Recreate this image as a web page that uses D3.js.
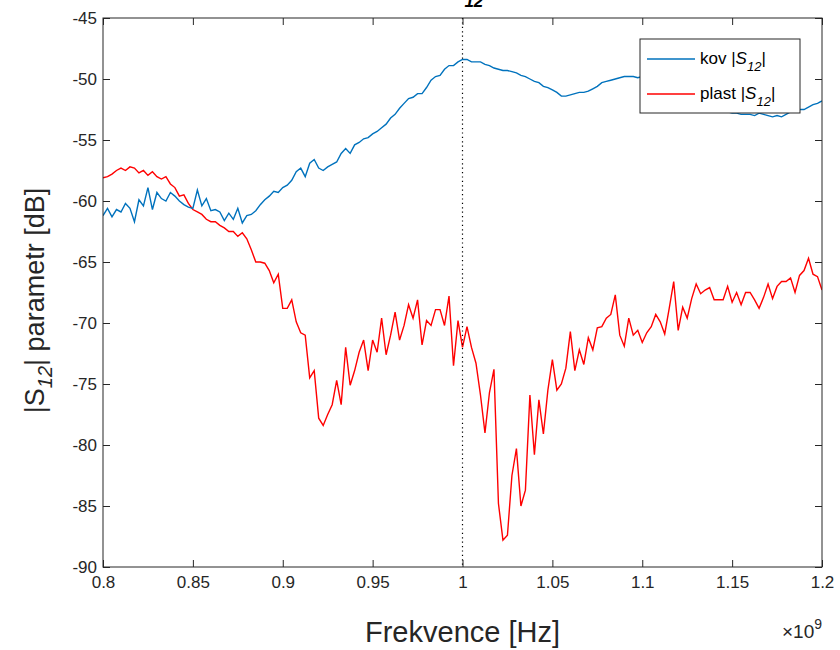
<!DOCTYPE html>
<html>
<head>
<meta charset="utf-8">
<script src="https://cdn.jsdelivr.net/npm/d3@7"></script>
<style>
  body { margin: 0; background: #fff; }
  svg { font-family: "Liberation Sans", Arial, Helvetica, sans-serif; }
  .axis text { fill: #262626; font-size: 17px; }
  .axis line { stroke: #262626; }
</style>
</head>
<body>
<svg width="840" height="650"></svg>
<script>
// frequency grid, GHz (shown as x 10^9 Hz)
const fStart = 0.8;
const fStep = 0.0025;

// kov |S12| [dB]
const kov = [
  -61.2, -60.6, -61.3, -60.7, -60.9, -60.2, -60.6, -61.7, -59.9, -60.4,
  -58.9, -60.7, -59.3, -59.8, -60.0, -59.3, -59.6, -60.0, -60.3, -60.5,
  -60.6, -59.1, -60.4, -59.8, -60.8, -60.7, -60.9, -61.6, -61.0, -61.5,
  -60.6, -61.8, -61.2, -61.1, -60.8, -60.3, -59.9, -59.6, -59.2, -59.3,
  -58.9, -58.7, -58.3, -57.6, -57.3, -58.0, -56.9, -56.6, -57.3, -57.5,
  -57.2, -57.0, -56.8, -56.1, -55.7, -56.1, -55.4, -55.2, -54.9, -54.8,
  -54.5, -54.3, -54.0, -53.7, -53.2, -52.9, -52.4, -52.0, -51.6, -51.5,
  -51.2, -51.2, -50.7, -50.1, -49.8, -49.7, -49.2, -48.9, -48.9, -48.6,
  -48.4, -48.4, -48.6, -48.6, -48.6, -48.8, -48.9, -49.1, -49.2, -49.3,
  -49.3, -49.4, -49.5, -49.7, -49.8, -50.0, -50.2, -50.3, -50.6, -50.7,
  -50.9, -51.1, -51.4, -51.4, -51.3, -51.2, -51.1, -51.1, -51.0, -50.8,
  -50.6, -50.3, -50.2, -50.1, -50.0, -49.9, -49.8, -49.8, -49.8, -49.9,
  -49.8, -49.9, -50.0, -50.1, -50.2, -50.4, -50.6, -50.7, -50.9, -51.1,
  -51.2, -51.4, -51.6, -51.7, -52.0, -52.2, -52.4, -52.5, -52.7, -52.7,
  -52.8, -52.8, -52.9, -52.9, -52.9, -53.0, -52.8, -52.9, -53.0, -53.1,
  -53.0, -53.1, -52.9, -52.7, -52.6, -52.5, -52.5, -52.3, -52.1, -52.0,
  -51.8
];

// plast |S12| [dB]
const plast = [
  -58.1, -58.0, -57.8, -57.5, -57.3, -57.5, -57.2, -57.3, -57.7, -57.5,
  -57.9, -57.6, -58.0, -58.2, -58.0, -58.6, -58.9, -59.6, -59.5, -60.2,
  -60.7, -60.9, -61.1, -61.5, -61.7, -61.7, -62.0, -62.2, -62.5, -62.5,
  -62.9, -62.6, -63.1, -64.0, -65.0, -65.0, -65.1, -65.7, -66.7, -66.0,
  -68.8, -68.8, -68.1, -69.9, -70.8, -71.0, -74.5, -73.9, -77.8, -78.4,
  -77.5, -76.7, -74.7, -76.7, -72.0, -75.1, -73.9, -72.4, -71.4, -73.9,
  -71.4, -72.4, -69.6, -72.6, -71.0, -69.1, -71.4, -70.2, -68.5, -69.6,
  -68.1, -71.8, -69.8, -70.2, -68.9, -68.9, -70.2, -67.8, -73.5, -69.8,
  -72.0, -70.3, -72.0, -73.3, -75.9, -79.0, -75.7, -73.8, -84.8, -87.8,
  -87.4, -82.5, -80.3, -85.0, -83.7, -75.9, -80.8, -76.3, -79.1, -75.5,
  -73.0, -75.5, -75.0, -73.7, -70.7, -73.9, -72.2, -73.4, -71.2, -72.2,
  -70.4, -70.3, -69.6, -69.3, -67.7, -71.0, -71.9, -69.6, -71.0, -70.6,
  -71.6, -70.8, -70.3, -69.3, -69.9, -70.9, -68.8, -66.6, -70.6, -68.7,
  -69.6, -68.0, -66.8, -67.6, -67.3, -67.1, -68.1, -68.1, -68.1, -67.0,
  -68.3, -67.5, -68.5, -67.5, -67.5, -68.1, -68.8, -67.9, -66.8, -68.0,
  -67.0, -66.6, -66.6, -66.3, -67.5, -66.1, -65.7, -64.7, -66.0, -66.2,
  -67.3
];

const xTicks = [0.8, 0.85, 0.9, 0.95, 1, 1.05, 1.1, 1.15, 1.2];
const yTicks = [-90, -85, -80, -75, -70, -65, -60, -55, -50, -45];
const markerFreq = 1.0;

const margin = { top: 18, right: 18, bottom: 83, left: 103 };
const width = 840 - margin.left - margin.right;
const height = 650 - margin.top - margin.bottom;

const svg = d3.select("svg");
const g = svg.append("g").attr("transform", `translate(${margin.left},${margin.top})`);

const x = d3.scaleLinear().domain([0.8, 1.2]).range([0, width]);
const y = d3.scaleLinear().domain([-90, -45]).range([height, 0]);

const fmtX = (d) => String(+d.toFixed(2));
const fmtY = (d) => String(d);

// axes with inward ticks on all four sides
g.append("g").attr("class", "axis").attr("transform", `translate(0,${height})`)
  .call(d3.axisBottom(x).tickValues(xTicks).tickFormat(fmtX).tickSizeInner(-7).tickSizeOuter(0).tickPadding(9))
  .call((a) => a.select(".domain").remove());
g.append("g").attr("class", "axis")
  .call(d3.axisTop(x).tickValues(xTicks).tickFormat("").tickSizeInner(-7).tickSizeOuter(0))
  .call((a) => a.select(".domain").remove());
g.append("g").attr("class", "axis")
  .call(d3.axisLeft(y).tickValues(yTicks).tickFormat(fmtY).tickSizeInner(-7).tickSizeOuter(0).tickPadding(6))
  .call((a) => a.select(".domain").remove());
g.append("g").attr("class", "axis").attr("transform", `translate(${width},0)`)
  .call(d3.axisRight(y).tickValues(yTicks).tickFormat("").tickSizeInner(-7).tickSizeOuter(0))
  .call((a) => a.select(".domain").remove());

g.append("clipPath").attr("id", "clip")
  .append("rect").attr("width", width).attr("height", height);

const line = d3.line()
  .x((d, i) => x(fStart + i * fStep))
  .y((d) => y(d));

const plot = g.append("g").attr("clip-path", "url(#clip)");
plot.append("path").datum(plast)
  .attr("d", line).attr("fill", "none").attr("stroke", "#ff0000").attr("stroke-width", 1.4);
plot.append("path").datum(kov)
  .attr("d", line).attr("fill", "none").attr("stroke", "#0072bd").attr("stroke-width", 1.4);

// dotted marker at 1 GHz
g.append("line")
  .attr("x1", x(markerFreq)).attr("x2", x(markerFreq))
  .attr("y1", 0).attr("y2", height)
  .attr("stroke", "#000").attr("stroke-width", 1.2)
  .attr("stroke-dasharray", "1.2,3.2");

// box
g.append("rect").attr("width", width).attr("height", height)
  .attr("fill", "none").attr("stroke", "#262626").attr("stroke-width", 1);

// legend
const legend = g.append("g").attr("transform", `translate(${640 - margin.left},${39 - margin.top})`);
legend.append("rect").attr("width", 160).attr("height", 74)
  .attr("fill", "#fff").attr("stroke", "#262626").attr("stroke-width", 1);
const items = [
  { name: "kov", color: "#0072bd" },
  { name: "plast", color: "#ff0000" }
];
items.forEach((it, i) => {
  const yy = 20 + i * 35;
  legend.append("line").attr("x1", 7).attr("x2", 55).attr("y1", yy).attr("y2", yy)
    .attr("stroke", it.color).attr("stroke-width", 1.4);
  const t = legend.append("text").attr("x", 60).attr("y", yy + 5)
    .attr("fill", "#000").style("font-size", "17px");
  t.append("tspan").text(it.name + " |");
  t.append("tspan").attr("font-style", "italic").text("S");
  t.append("tspan").attr("font-style", "italic").attr("dy", 7).style("font-size", "13px").text("12");
  t.append("tspan").attr("dy", -7).text("|");
});

// axis labels
svg.append("text")
  .attr("x", margin.left + width / 2).attr("y", 642)
  .attr("text-anchor", "middle").attr("fill", "#262626").style("font-size", "29px")
  .text("Frekvence [Hz]");

const xexp = svg.append("text")
  .attr("x", 822).attr("y", 638).attr("text-anchor", "end")
  .attr("fill", "#262626");
xexp.append("tspan").style("font-size", "19px").text("\u00d710");
xexp.append("tspan").attr("dy", -9).style("font-size", "14px").text("9");

const yl = svg.append("text")
  .attr("transform", `translate(44,${margin.top + height / 2 + 8}) rotate(-90)`)
  .attr("text-anchor", "middle").attr("fill", "#262626").style("font-size", "27px");
yl.append("tspan").text("|S");
yl.append("tspan").attr("dy", 8).attr("font-style", "italic").style("font-size", "20px").text("12");
yl.append("tspan").attr("dy", -8).text("| parametr [dB]");

// title, cut off at the top edge like the original figure (only the subscript shows)
const title = svg.append("text")
  .attr("x", margin.left + width / 2 + 4).attr("y", -6)
  .attr("text-anchor", "middle").attr("fill", "#000")
  .style("font-size", "22px").style("font-weight", "bold");
title.append("tspan").text("|");
title.append("tspan").attr("font-style", "italic").text("S");
title.append("tspan").attr("font-style", "italic").attr("dy", 13).style("font-size", "17px").text("12");
title.append("tspan").attr("dy", -13).text("|");
</script>
</body>
</html>
